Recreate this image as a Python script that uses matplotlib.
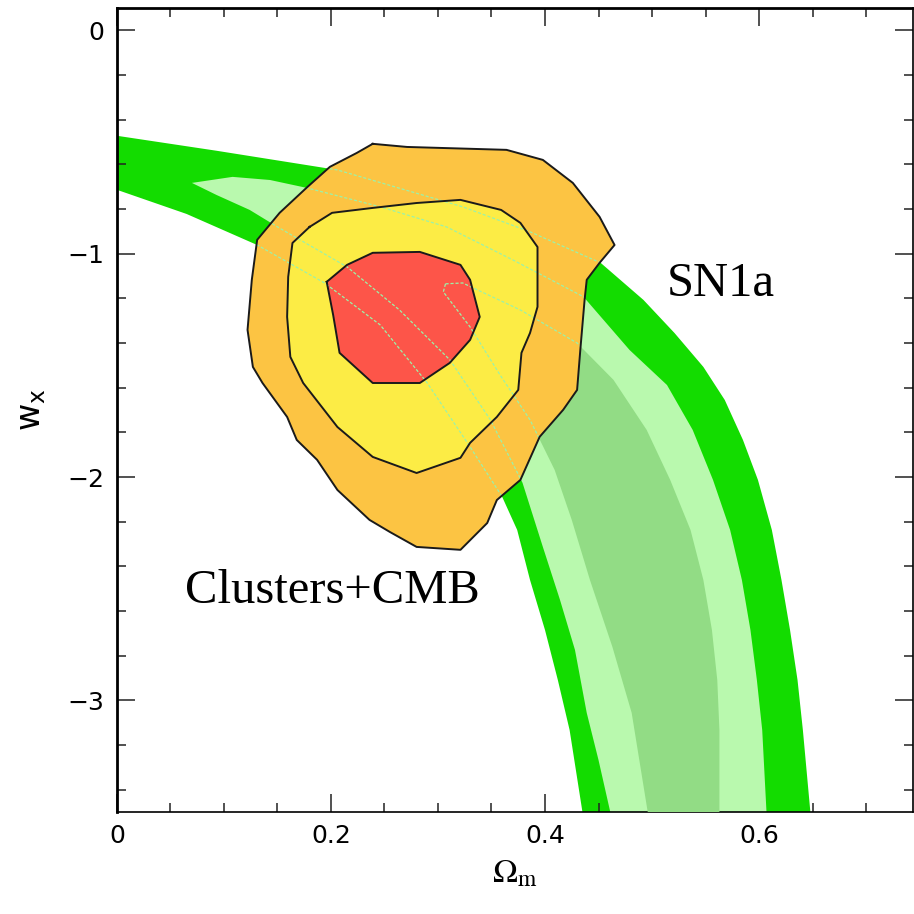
import numpy as np
import matplotlib
matplotlib.use("Agg")
import matplotlib.pyplot as plt
from matplotlib.ticker import MultipleLocator

# ---------------------------------------------
# SN1a confidence bands (Omega_m, w_x)
# ---------------------------------------------
# 3-sigma band: outer (upper/right) edge and inner (lower/left) edge
sn3_outer_x = [0.000, 0.093, 0.206, 0.323, 0.386, 0.452, 0.492, 0.521, 0.548, 0.568,
               0.585, 0.599, 0.612, 0.621, 0.629, 0.636, 0.641, 0.648]
sn3_outer_y = [-0.472, -0.539, -0.625, -0.790, -0.902, -1.041, -1.207, -1.355, -1.507, -1.655,
               -1.834, -2.013, -2.237, -2.461, -2.685, -2.909, -3.133, -3.500]
sn3_inner_x = [0.000, 0.065, 0.131, 0.194, 0.246, 0.290, 0.330, 0.360, 0.374, 0.386,
               0.400, 0.412, 0.423, 0.435]
sn3_inner_y = [-0.714, -0.822, -0.961, -1.131, -1.319, -1.579, -1.865, -2.089, -2.237, -2.461,
               -2.685, -2.909, -3.133, -3.500]

# 2-sigma band
sn2_outer_x = [0.070, 0.108, 0.143, 0.178, 0.246, 0.308, 0.370, 0.436, 0.479, 0.514,
               0.538, 0.557, 0.573, 0.584, 0.592, 0.598, 0.603, 0.607]
sn2_outer_y = [-0.683, -0.656, -0.670, -0.706, -0.790, -0.880, -1.028, -1.193, -1.431, -1.588,
               -1.789, -2.013, -2.237, -2.461, -2.685, -2.909, -3.133, -3.500]
sn2_inner_x = [0.070, 0.093, 0.124, 0.150, 0.215, 0.264, 0.311, 0.349, 0.379, 0.398,
               0.414, 0.428, 0.439, 0.450, 0.461]
sn2_inner_y = [-0.683, -0.737, -0.804, -0.880, -1.059, -1.252, -1.475, -1.744, -2.026, -2.313,
               -2.550, -2.774, -3.056, -3.267, -3.500]

# 1-sigma band
sn1_outer_x = [0.307, 0.323, 0.377, 0.430, 0.464, 0.495, 0.517, 0.536, 0.548, 0.556,
               0.561, 0.563, 0.563]
sn1_outer_y = [-1.135, -1.131, -1.252, -1.400, -1.565, -1.789, -2.013, -2.237, -2.461, -2.685,
               -2.909, -3.133, -3.500]
sn1_inner_x = [0.307, 0.305, 0.330, 0.358, 0.386, 0.409, 0.425, 0.442, 0.463, 0.481, 0.496]
sn1_inner_y = [-1.135, -1.171, -1.328, -1.543, -1.744, -1.968, -2.192, -2.461, -2.761, -3.056,
               -3.500]

# ---------------------------------------------
# Clusters+CMB contours (closed)
# ---------------------------------------------
cl3_x = [0.239, 0.271, 0.364, 0.398, 0.426, 0.451, 0.465, 0.451, 0.439, 0.437, 0.433, 0.430,
         0.417, 0.395, 0.377, 0.355, 0.346, 0.321, 0.280, 0.255, 0.236, 0.206, 0.187, 0.168,
         0.159, 0.136, 0.127, 0.122, 0.126, 0.131, 0.152, 0.178, 0.199, 0.224]
cl3_y = [-0.508, -0.522, -0.535, -0.580, -0.683, -0.835, -0.961, -1.041, -1.117, -1.207,
         -1.431, -1.610, -1.699, -1.820, -2.013, -2.103, -2.206, -2.326, -2.313, -2.246,
         -2.192, -2.058, -1.923, -1.834, -1.731, -1.579, -1.507, -1.341, -1.117, -0.938,
         -0.817, -0.701, -0.611, -0.549]

cl2_x = [0.180, 0.201, 0.239, 0.280, 0.321, 0.359, 0.377, 0.393, 0.393, 0.386, 0.378, 0.375,
         0.355, 0.330, 0.321, 0.280, 0.239, 0.206, 0.174, 0.162, 0.159, 0.160, 0.164]
cl2_y = [-0.880, -0.817, -0.795, -0.773, -0.759, -0.804, -0.862, -0.970, -1.238, -1.355,
         -1.444, -1.610, -1.731, -1.847, -1.914, -1.982, -1.910, -1.776, -1.579, -1.462,
         -1.283, -1.104, -0.952]

cl1_x = [0.196, 0.215, 0.239, 0.283, 0.321, 0.330, 0.339, 0.330, 0.311, 0.283, 0.239, 0.208,
         0.202]
cl1_y = [-1.126, -1.050, -0.996, -0.992, -1.050, -1.117, -1.283, -1.386, -1.489, -1.579,
         -1.579, -1.444, -1.274]

c_sn3, c_sn2, c_sn1 = '#13dc00', '#b9f9ae', '#92dc85'
c_cl3, c_cl2, c_cl1 = '#fcc443', '#fcec45', '#fd5549'

fig = plt.figure(figsize=(9.14, 9.14), dpi=100)
ax = fig.add_axes([0.128, 0.1116, 0.871, 0.8796])

# SN bands: outer edge down to the bottom, then back up along the inner edge
ax.fill(sn3_outer_x + sn3_inner_x[::-1], sn3_outer_y + sn3_inner_y[::-1],
        color=c_sn3, lw=0, zorder=1)
ax.fill(sn2_outer_x + sn2_inner_x[::-1], sn2_outer_y + sn2_inner_y[::-1],
        color=c_sn2, lw=0, zorder=2)
ax.fill(sn1_outer_x + sn1_inner_x[::-1], sn1_outer_y + sn1_inner_y[::-1],
        color=c_sn1, lw=0, zorder=3)

# cluster contours
outer = ax.fill(cl3_x, cl3_y, facecolor=c_cl3, edgecolor='none', zorder=4)[0]
ax.fill(cl2_x, cl2_y, facecolor=c_cl2, edgecolor='none', zorder=4)
ax.fill(cl1_x, cl1_y, facecolor=c_cl1, edgecolor='none', zorder=4)

# SN contour lines show through the cluster region as faint dashes
for xs, ys in [(sn3_outer_x, sn3_outer_y), (sn3_inner_x, sn3_inner_y),
               (sn2_outer_x, sn2_outer_y), (sn2_inner_x, sn2_inner_y),
               (sn1_outer_x, sn1_outer_y), (sn1_inner_x, sn1_inner_y)]:
    ln, = ax.plot(xs, ys, color='#9cf2a8', lw=0.9, ls=(0, (2.5, 1.5)), zorder=5)
    ln.set_clip_path(outer)

for xs, ys in [(cl3_x, cl3_y), (cl2_x, cl2_y), (cl1_x, cl1_y)]:
    ax.plot(xs + xs[:1], ys + ys[:1], color='#1a1a1a', lw=1.4, zorder=6)

ax.text(0.514, -1.189, 'SN1a', family='Liberation Serif', fontsize=35, va='baseline')
ax.text(0.0636, -2.564, 'Clusters+CMB', family='Liberation Serif', fontsize=35, va='baseline')

ax.set_xlim(0, 0.744)
ax.set_ylim(-3.5, 0.1)
ax.xaxis.set_major_locator(MultipleLocator(0.2))
ax.xaxis.set_minor_locator(MultipleLocator(0.05))
ax.yaxis.set_major_locator(MultipleLocator(1))
ax.yaxis.set_minor_locator(MultipleLocator(0.2))
ax.xaxis.set_major_formatter(plt.FuncFormatter(lambda v, p: '0' if abs(v) < 1e-9 else f'{v:.1f}'))
ax.yaxis.set_major_formatter(plt.FuncFormatter(lambda v, p: f'{v:.0f}'.replace('-', '\u2212')))

ax.tick_params(which='both', direction='in', top=True, right=True, width=1.1, color='#222222')
ax.tick_params(which='major', length=13, labelsize=18, pad=9)
ax.tick_params(which='minor', length=6.5)
for s in ['left', 'top']:
    ax.spines[s].set_linewidth(2.0)
for s in ['bottom', 'right']:
    ax.spines[s].set_linewidth(1.2)

ax.set_xlabel(r'$\Omega_{\rm m}$', fontsize=24, math_fontfamily='stix', labelpad=6)
ax.set_ylabel(r'$\mathrm{w_x}$', fontsize=24, labelpad=14)

plt.savefig('out.png', dpi=100)
